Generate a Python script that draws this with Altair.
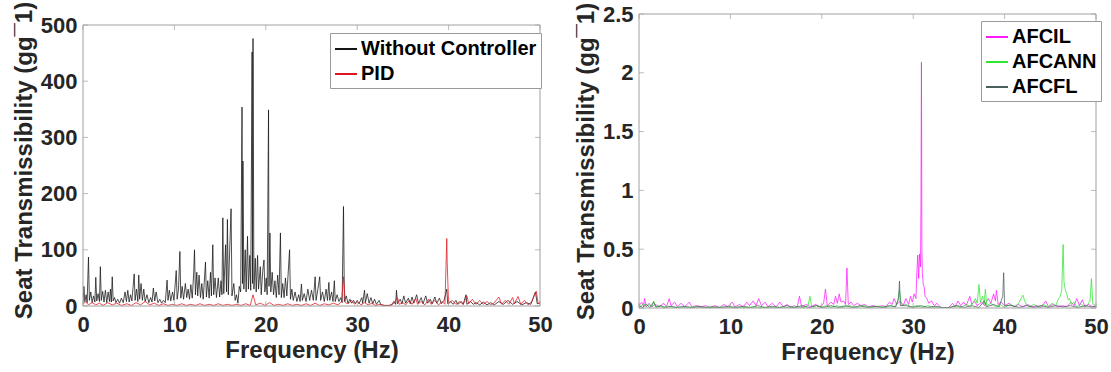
import altair as alt
import pandas as pd

# ---------------- data ----------------
freq_wc = [0.0, 0.1, 0.2, 0.35, 0.45, 0.6, 0.7, 0.85, 1.0, 1.15, 1.3, 1.4, 1.5, 1.65, 1.8, 1.9, 2.0, 2.15, 2.3, 2.45,
           2.6, 2.75, 2.9, 3.0, 3.1, 3.2, 3.3, 3.45, 3.6, 3.8, 4.0, 4.2, 4.4, 4.6, 4.75, 4.9, 5.05, 5.2, 5.35, 5.6,
           5.7, 5.85, 6.0, 6.1, 6.2, 6.35, 6.5, 6.65, 6.8, 7.0, 7.2, 7.4, 7.55, 7.7, 7.85, 8.0, 8.2, 8.4, 8.6, 8.8,
           9.0, 9.2, 9.3, 9.45, 9.6, 9.8, 9.95, 10.2, 10.3, 10.45, 10.6, 10.7, 10.85, 11.0, 11.2, 11.35, 11.5, 11.65,
           11.8, 11.95, 12.1, 12.2, 12.3, 12.45, 12.55, 12.7, 12.85, 13.0, 13.15, 13.4, 13.5, 13.65, 13.8, 13.95,
           14.05, 14.2, 14.3, 14.45, 14.6, 14.8, 14.95, 15.1, 15.2, 15.3, 15.4, 15.6, 15.7, 15.8, 15.9, 16.05, 16.2,
           16.3, 16.5, 16.65, 16.8, 16.95, 17.1, 17.25, 17.4, 17.45, 17.5, 17.6, 17.75, 17.85, 18.0, 18.1, 18.25,
           18.35, 18.5, 18.55, 18.6, 18.7, 18.85, 18.95, 19.1, 19.2, 19.4, 19.5, 19.65, 19.8, 19.9, 20.05, 20.15,
           20.3, 20.35, 20.45, 20.55, 20.7, 20.85, 21.0, 21.15, 21.3, 21.45, 21.6, 21.7, 21.85, 22.0, 22.15, 22.3,
           22.6, 22.7, 22.85, 23.0, 23.2, 23.4, 23.6, 23.75, 23.9, 24.0, 24.2, 24.4, 24.6, 24.8, 25.0, 25.2, 25.4,
           25.5, 25.7, 25.9, 26.0, 26.2, 26.4, 26.6, 26.75, 26.9, 27.0, 27.2, 27.35, 27.5, 27.6, 27.8, 28.0, 28.2,
           28.35, 28.5, 28.6, 28.8, 29.0, 29.2, 29.4, 29.6, 29.8, 30.0, 30.2, 30.5, 30.6, 30.8, 30.9, 31.1, 31.3,
           31.5, 31.7, 31.9, 32.1, 32.4, 32.6, 33.0, 33.5, 33.8, 34.0, 34.2, 34.3, 34.4, 34.7, 34.9, 35.1, 35.3,
           35.6, 35.8, 36.0, 36.2, 36.5, 36.7, 37.0, 37.2, 37.5, 37.7, 38.0, 38.2, 38.5, 38.7, 39.0, 39.2, 39.5,
           39.8, 39.9, 40.2, 40.5, 40.8, 41.0, 41.4, 41.6, 41.9, 42.0, 42.4, 42.7, 43.0, 43.4, 43.8, 44.2, 44.6,
           45.0, 45.5, 46.0, 46.5, 47.0, 47.5, 48.0, 48.5, 49.0, 49.5, 49.7, 50.0]
val_wc = [5, 35, 8, 20, 6, 87, 10, 25, 6, 18, 7, 51, 9, 22, 8, 70, 10, 26, 7, 28,
          6, 25, 8, 30, 7, 52, 9, 15, 6, 12, 5, 14, 6, 25, 8, 28, 7, 20, 9, 57,
          10, 30, 8, 55, 12, 40, 10, 30, 8, 20, 6, 15, 7, 32, 9, 25, 6, 12, 5, 10,
          6, 46, 10, 28, 9, 25, 10, 63, 12, 30, 97, 14, 35, 12, 40, 15, 30, 12,
          38, 14, 55, 100, 20, 60, 18, 55, 15, 40, 12, 78, 16, 45, 14, 60,
          18, 109, 20, 50, 15, 50, 16, 45, 20, 157, 22, 109, 25, 154, 20, 100, 173,
          18, 40, 10, 20, 5, 35, 25, 354, 40, 258, 30, 100, 25, 124, 30, 90,
          28, 452, 40, 476, 30, 85, 25, 90, 30, 70, 20, 60, 82, 25, 50, 20,
          349, 35, 130, 25, 60, 20, 45, 15, 55, 20, 130, 15, 40, 15, 50, 18,
          100, 12, 30, 10, 25, 8, 20, 8, 39, 10, 22, 8, 30, 10, 28, 10, 52,
          10, 30, 52, 10, 25, 8, 30, 10, 42, 10, 25, 8, 45, 8, 20, 8, 15,
          6, 177, 8, 18, 5, 12, 5, 10, 4, 10, 4, 15, 5, 28, 6, 22, 5,
          15, 4, 12, 3, 10, 2, 1, 1, 2, 8, 3, 28, 4, 12, 4, 18, 5,
          14, 4, 16, 5, 20, 5, 15, 4, 18, 5, 12, 4, 16, 5, 14, 4, 10,
          30, 4, 8, 3, 10, 3, 8, 3, 20, 3, 8, 3, 6, 2, 7, 2, 6,
          2, 8, 3, 10, 3, 8, 2, 6, 3, 25, 4, 5]

freq_pid = [0.0, 0.3, 0.6, 1.0, 1.4, 1.8, 2.2, 2.7, 3.2, 3.7, 4.2, 4.8, 5.3, 5.8, 6.3, 6.8, 7.3, 7.8, 8.3, 8.8,
            9.3, 9.8, 10.3, 10.8, 11.3, 11.8, 12.3, 12.8, 13.3, 13.8, 14.3, 14.8, 15.3, 15.8, 16.3, 16.8, 17.3,
            17.8, 18.3, 18.6, 18.9, 19.4, 19.9, 20.4, 20.9, 21.4, 21.9, 22.4, 22.9, 23.4, 23.9, 24.4, 24.9, 25.4,
            25.9, 26.4, 26.9, 27.4, 27.9, 28.3, 28.5, 28.7, 29.0, 29.4, 29.7, 30.0, 30.4, 30.8, 31.2, 31.6, 32.0,
            32.5, 33.0, 33.5, 34.0, 34.4, 34.6, 35.0, 35.3, 35.7, 36.0, 36.4, 36.6, 37.0, 37.4, 37.8, 38.1, 38.5,
            38.9, 39.3, 39.6, 39.8, 39.85, 40.0, 40.4, 40.8, 41.2, 41.6, 42.0, 42.2, 42.6, 43.0, 43.4, 43.8, 44.2,
            44.6, 45.0, 45.5, 45.8, 46.2, 46.6, 47.0, 47.2, 47.6, 47.9, 48.3, 48.7, 49.1, 49.4, 49.6, 49.8, 50.0]
val_pid = [3, 8, 2, 6, 2, 5, 1, 6, 2, 5, 1, 4, 1, 6, 2, 8, 2, 5, 1, 4,
           1, 3, 1, 4, 1, 3, 1, 4, 1, 3, 1, 4, 1, 3, 1, 3, 1,
           4, 1, 20, 2, 5, 1, 6, 1, 3, 1, 4, 1, 3, 1, 4, 1, 5,
           1, 4, 2, 5, 2, 8, 52, 6, 4, 10, 3, 8, 2, 6, 2, 5, 1,
           3, 1, 1, 5, 15, 3, 6, 2, 10, 3, 14, 3, 8, 2, 12, 3, 10,
           2, 8, 3, 120, 75, 4, 10, 3, 8, 3, 18, 4, 12, 3, 10, 3, 8,
           2, 6, 16, 3, 10, 3, 15, 4, 17, 3, 10, 2, 8, 20, 26, 4, 6]

freq_afcil = [0.0, 0.3, 0.5, 0.6, 0.8, 1.1, 1.4, 1.8, 2.2, 2.7, 3.0, 3.3, 3.5, 3.9, 4.2, 4.6, 5.0, 5.5, 5.8, 6.3,
              6.8, 7.3, 7.8, 8.3, 8.8, 9.3, 9.7, 10.2, 10.5, 11.0, 11.4, 11.8, 12.1, 12.5, 12.8, 13.1, 13.4, 13.8,
              14.1, 14.6, 15.0, 15.4, 15.8, 16.2, 16.6, 17.0, 17.3, 17.55, 17.8, 18.3, 18.8, 19.3, 19.8, 20.2, 20.4,
              20.6, 21.0, 21.3, 21.5, 21.7, 21.9, 22.1, 22.4, 22.6, 22.75, 22.9, 23.2, 23.5, 23.9, 24.3, 24.7, 25.1,
              25.6, 26.1, 26.6, 27.0, 27.4, 27.7, 27.9, 28.2, 28.6, 28.9, 29.2, 29.5, 29.7, 29.9, 30.1, 30.3, 30.4,
              30.5, 30.6, 30.7, 30.8, 30.85, 30.9, 30.95, 31.0, 31.1, 31.2, 31.3, 31.5, 31.7, 32.0, 32.3, 32.6, 33.0,
              33.5, 33.9, 34.3, 34.6, 34.9, 35.2, 35.5, 35.8, 36.2, 36.4, 36.7, 37.0, 37.5, 37.8, 38.2, 38.5, 38.8,
              39.0, 39.1, 39.3, 39.6, 40.0, 40.5, 41.0, 41.5, 42.0, 42.5, 43.0, 43.5, 44.0, 44.5, 44.8, 45.3, 45.8,
              46.3, 46.8, 47.3, 47.6, 47.9, 48.2, 48.5, 48.8, 49.2, 49.6, 50.0]
val_afcil = [0.02, 0.05, 0.01, 0.08, 0.01, 0.04, 0.01, 0.03, 0.01, 0.04, 0.01, 0.08, 0.02, 0.05, 0.01, 0.04, 0.01,
             0.05, 0.01, 0.02, 0.01, 0.02, 0.005, 0.02, 0.005, 0.03, 0.01, 0.05, 0.01, 0.03, 0.01, 0.05, 0.02,
             0.06, 0.02, 0.08, 0.02, 0.05, 0.01, 0.04, 0.01, 0.05, 0.01, 0.03, 0.005, 0.02, 0.005, 0.1, 0.01,
             0.03, 0.01, 0.03, 0.01, 0.04, 0.16, 0.02, 0.05, 0.03, 0.1, 0.04, 0.12, 0.05, 0.06, 0.03, 0.34,
             0.03, 0.05, 0.02, 0.04, 0.02, 0.03, 0.01, 0.02, 0.01, 0.02, 0.01, 0.05, 0.03, 0.08, 0.03, 0.06,
             0.02, 0.08, 0.03, 0.1, 0.05, 0.12, 0.08, 0.3, 0.45, 0.25, 0.46, 0.35, 0.9, 2.09, 0.5, 0.3, 0.2,
             0.18, 0.1, 0.08, 0.04, 0.06, 0.02, 0.04, 0.005, 0.002, 0.005, 0.04, 0.01, 0.06, 0.02, 0.05, 0.02,
             0.1, 0.03, 0.06, 0.02, 0.05, 0.02, 0.08, 0.04, 0.12, 0.06, 0.15, 0.03, 0.05, 0.02, 0.04, 0.01,
             0.03, 0.01, 0.03, 0.01, 0.02, 0.005, 0.06, 0.01, 0.03, 0.01, 0.02, 0.01, 0.05, 0.02, 0.08, 0.02,
             0.07, 0.01, 0.03, 0.01, 0.02]

freq_afcann = [0.0, 0.2, 0.5, 0.8, 1.1, 1.4, 1.6, 1.8, 2.2, 2.6, 3.2, 3.8, 4.5, 5.2, 6.0, 6.8, 7.6, 8.4, 9.2, 10.0,
               10.8, 11.6, 12.4, 13.2, 14.0, 14.8, 15.6, 16.4, 17.2, 18.0, 18.5, 18.7, 18.9, 19.4, 19.9, 20.5, 21.0,
               21.6, 22.2, 23.0, 23.8, 24.6, 25.4, 26.2, 27.0, 27.6, 28.0, 28.3, 28.5, 28.7, 29.2, 29.8, 30.4, 31.0,
               31.6, 32.2, 32.8, 33.4, 34.0, 34.6, 35.2, 35.8, 36.3, 36.8, 37.0, 37.2, 37.35, 37.6, 37.75, 37.9,
               38.05, 38.5, 39.0, 39.5, 40.0, 40.6, 41.2, 41.6, 41.8, 42.0, 42.2, 42.4, 42.7, 43.2, 43.7, 44.2, 44.7,
               45.2, 45.6, 45.9, 46.1, 46.25, 46.4, 46.5, 46.65, 46.8, 46.95, 47.1, 47.3, 47.6, 47.9, 48.3, 48.7,
               49.1, 49.35, 49.5, 49.65, 50.0]
val_afcann = [0.03, 0.01, 0.04, 0.01, 0.03, 0.01, 0.06, 0.01, 0.02, 0.005, 0.015, 0.005, 0.01, 0.004, 0.01, 0.004,
              0.01, 0.003, 0.01, 0.004, 0.01, 0.004, 0.01, 0.003, 0.008, 0.003, 0.01, 0.003, 0.01, 0.004, 0.02,
              0.1, 0.01, 0.02, 0.005, 0.02, 0.005, 0.02, 0.005, 0.02, 0.005, 0.02, 0.005, 0.015, 0.005, 0.02,
              0.01, 0.06, 0.15, 0.02, 0.03, 0.01, 0.02, 0.005, 0.02, 0.005, 0.01, 0.002, 0.005, 0.02, 0.005,
              0.03, 0.01, 0.08, 0.04, 0.2, 0.05, 0.1, 0.03, 0.16, 0.02, 0.04, 0.01, 0.03, 0.005, 0.03, 0.01,
              0.05, 0.08, 0.11, 0.06, 0.03, 0.01, 0.03, 0.005, 0.03, 0.01, 0.04, 0.02, 0.08, 0.1, 0.15, 0.54,
              0.22, 0.15, 0.12, 0.07, 0.08, 0.03, 0.05, 0.01, 0.04, 0.01, 0.03, 0.06, 0.25, 0.03, 0.02]

freq_afcfl = [0.0, 0.4, 0.8, 1.2, 1.6, 1.9, 2.4, 2.9, 3.5, 4.2, 5.0, 5.8, 6.6, 7.4, 8.2, 9.0, 9.8, 10.6, 11.4, 12.2,
              13.0, 13.8, 14.6, 15.4, 16.2, 17.0, 17.8, 18.6, 19.4, 20.2, 21.0, 21.8, 22.6, 23.4, 24.2, 25.0, 25.8,
              26.6, 27.4, 28.1, 28.4, 28.5, 28.6, 29.2, 30.0, 30.8, 31.6, 32.4, 33.2, 34.0, 34.8, 35.6, 36.4, 37.2,
              37.8, 38.0, 38.8, 39.4, 39.8, 39.9, 40.0, 40.8, 41.6, 42.4, 43.2, 44.0, 44.8, 45.6, 46.4, 47.2, 48.0,
              48.8, 49.5, 50.0]
val_afcfl = [0.02, 0.005, 0.03, 0.005, 0.05, 0.005, 0.02, 0.003, 0.015, 0.003, 0.015, 0.003, 0.015, 0.003, 0.01,
             0.003, 0.015, 0.003, 0.015, 0.003, 0.02, 0.003, 0.015, 0.003, 0.02, 0.003, 0.02, 0.004, 0.02, 0.005,
             0.02, 0.005, 0.02, 0.004, 0.02, 0.004, 0.015, 0.004, 0.02, 0.01, 0.08, 0.23, 0.02, 0.02, 0.005,
             0.02, 0.005, 0.015, 0.002, 0.005, 0.02, 0.005, 0.02, 0.005, 0.06, 0.01, 0.03, 0.01, 0.1, 0.3, 0.02,
             0.02, 0.005, 0.02, 0.005, 0.02, 0.005, 0.02, 0.01, 0.02, 0.005, 0.02, 0.01, 0.01]

x_ticks = [0, 10, 20, 30, 40, 50]
left_y_ticks = [0, 100, 200, 300, 400, 500]
right_y_ticks = [0, 0.5, 1, 1.5, 2, 2.5]

left_names = ["Without Controller", "PID"]
left_colors = ["#141414", "#e0141e"]
right_names = ["AFCIL", "AFCANN", "AFCFL"]
right_colors = ["#ff19ff", "#2ee62e", "#4a5e5e"]

# ---------------- styling ----------------
FONT = "Liberation Sans"
TXT = "#262626"
FRAME = "#a0a0a0"
W = 457


def panel(names, colors, freqs, vals, yticks, frame_top, ymax, height, lx, ly):
    xenc = alt.X("f:Q", scale=alt.Scale(domain=[0, 50], nice=False, zero=False),
                 axis=alt.Axis(values=x_ticks, title="Frequency (Hz)", format="~r",
                               titleFont=FONT, titleFontSize=24, titleFontWeight="bold", titleColor=TXT,
                               labelFont=FONT, labelFontSize=22, labelFontWeight="bold", labelColor=TXT,
                               labelPadding=8, titlePadding=3, ticks=False, tickSize=0, domain=False,
                               grid=False, labelFlush=False, labelOverlap=False))
    yenc = alt.Y("v:Q", scale=alt.Scale(domain=[0, ymax], nice=False, zero=True),
                 axis=alt.Axis(values=yticks, title="Seat Transmissibility (gg¯1)", format="~r",
                               titleFont=FONT, titleFontSize=24, titleFontWeight="bold", titleColor=TXT,
                               labelFont=FONT, labelFontSize=22, labelFontWeight="bold", labelColor=TXT,
                               labelPadding=6, titlePadding=4, ticks=False, tickSize=0, domain=False,
                               grid=False, labelFlush=False, labelOverlap=False))
    cenc = alt.Color("s:N", scale=alt.Scale(domain=names, range=colors), sort=names,
                     legend=alt.Legend(orient="none", legendX=lx, legendY=ly, title=None,
                                       symbolType="stroke", symbolSize=484, symbolStrokeWidth=2,
                                       labelFont=FONT, labelFontSize=20, labelFontWeight="bold",
                                       labelColor="black", fillColor="white", strokeColor="#9a9a9a",
                                       padding=4, rowPadding=3, labelOffset=3, labelLimit=400))
    frames = []
    for k, (name, f, v) in enumerate(zip(names, freqs, vals)):
        frames.append(pd.DataFrame({"f": f, "v": v, "s": name, "k": k}))
    df = pd.concat(frames, ignore_index=True)
    lines = alt.Chart(df).mark_line(strokeWidth=0.75, clip=True).encode(
        x=xenc, y=yenc, color=cenc, order=alt.Order("f:Q"))
    xt = pd.DataFrame({"f": x_ticks})
    yt = pd.DataFrame({"v": yticks})
    one = pd.DataFrame({"f": [0]})
    frame = alt.Chart(one).mark_rect(fillOpacity=0, stroke=FRAME, strokeWidth=1).encode(
        x=alt.value(0), x2=alt.value(W), y=alt.datum(frame_top), y2=alt.datum(0))
    top_t = alt.Chart(xt).mark_tick(orient="vertical", size=5, thickness=1, color=FRAME, yOffset=2.5).encode(
        x=xenc, y=alt.datum(frame_top))
    bot_t = alt.Chart(xt).mark_tick(orient="vertical", size=5, thickness=1, color=FRAME, yOffset=-2.5).encode(
        x=xenc, y=alt.datum(0))
    left_t = alt.Chart(yt).mark_tick(orient="horizontal", size=5, thickness=1, color=FRAME, xOffset=2.5).encode(
        y=yenc, x=alt.value(0))
    right_t = alt.Chart(yt).mark_tick(orient="horizontal", size=5, thickness=1, color=FRAME, xOffset=-2.5).encode(
        y=yenc, x=alt.value(W))
    return alt.layer(lines, frame, top_t, bot_t, left_t, right_t).properties(width=W, height=height)


# left plot frame spans 281 px inside a 292 px view so both frames end on the same baseline
left = panel(left_names, left_colors, [freq_wc, freq_pid], [val_wc, val_pid], left_y_ticks,
             500, 500 * 292 / 281, 292, 247, 19)
right = panel(right_names, right_colors, [freq_afcil, freq_afcann, freq_afcfl],
              [val_afcil, val_afcann, val_afcfl], right_y_ticks, 2.5, 2.5, 294, 342, 7)

chart = alt.hconcat(left, right, spacing=99, bounds="flush").resolve_scale(
    color="independent", x="independent", y="independent"
).properties(
    padding={"left": 12, "top": 1, "right": 0, "bottom": 0}, background="white"
).configure_view(strokeOpacity=0)

chart.save("out.html", embed_options={"renderer": "svg", "actions": False})
